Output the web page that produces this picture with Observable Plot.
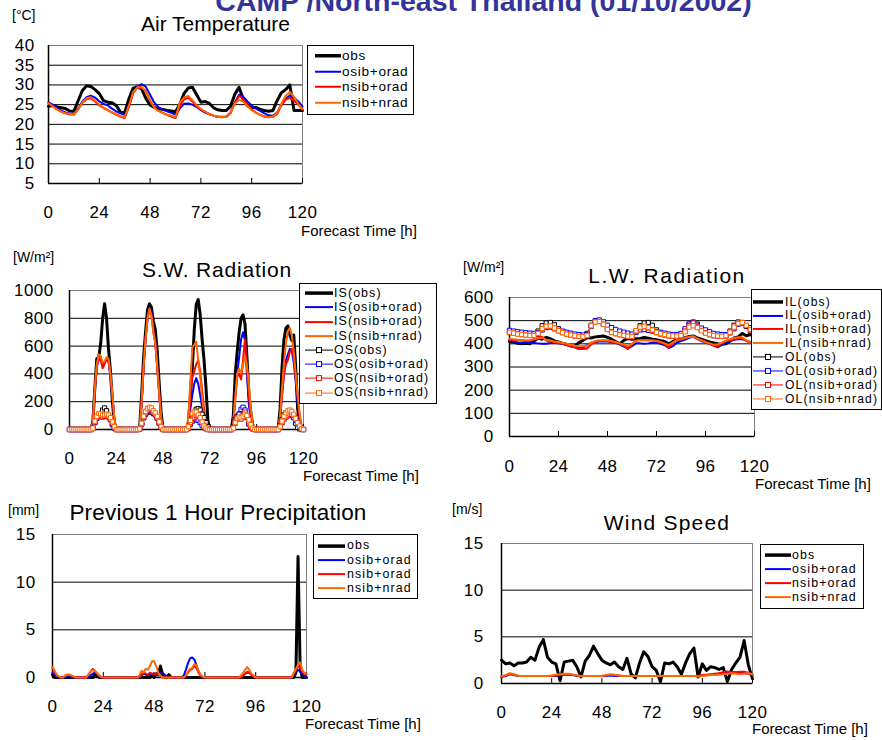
<!DOCTYPE html>
<html><head><meta charset="utf-8">
<script src="https://cdn.jsdelivr.net/npm/d3@7"></script>
<script src="https://cdn.jsdelivr.net/npm/@observablehq/plot@0.6"></script>
<style>
body{margin:0;background:#fff;}
#root{position:relative;width:882px;height:740px;overflow:hidden;font-family:"Liberation Sans",Arial,Helvetica,sans-serif;color:#000;background:#fff;}
.abs{position:absolute;white-space:nowrap;line-height:1;}
.pan{position:absolute;}
.legend{position:absolute;border:1px solid #000;background:#fff;box-sizing:border-box;overflow:hidden;}
.legend .row{display:flex;align-items:center;white-space:nowrap;line-height:1;}
svg text{letter-spacing:0.4px;}
</style></head><body><div id="root"></div>
<script>
// ---------------- DATA ----------------
const xTicks = [0, 24, 48, 72, 96, 120];
const seriesNames = ["obs", "osib+orad", "nsib+orad", "nsib+nrad"];
const colors = ["#000000", "#0000ff", "#ff0000", "#ff6600"];

// Air temperature, every 2 h (0..120)
const airObs = [24.6,24.8,24.4,24.2,24.0,23.4,23.3,26.0,28.6,29.8, 29.6,28.8,27.8,26.0,25.6,25.5,24.8,23.1,23.0,26.5, 29.2,29.5,29.0,26.6,24.9,24.3,23.9,23.8,23.5,23.4, 23.2,25.0,27.8,29.2,29.4,27.5,25.6,25.8,25.3,24.2, 23.7,23.5,23.5,24.6,27.6,29.4,26.4,24.7,24.3,24.3, 23.8,23.5,23.3,23.5,26.0,28.0,28.8,30.0,23.5,23.5, 23.5];
const airOsib = [25.6,25.0,24.2,23.5,23.0,22.7,22.7,24.0,25.8,26.9, 27.3,26.8,25.8,25.2,24.8,24.0,23.3,22.8,22.4,24.5, 28.0,29.6,30.2,29.5,27.5,25.5,24.3,23.8,23.3,22.9, 22.5,24.0,25.2,25.3,25.0,24.4,23.6,23.0,22.6,22.2, 21.9,21.9,22.0,23.0,25.5,27.5,27.0,25.8,24.8,24.0, 23.4,22.8,22.3,22.2,23.0,25.0,26.5,27.3,26.8,25.8, 24.5];
const airNsibO = [25.4,24.6,23.8,23.2,22.8,22.5,22.5,23.8,25.5,26.4, 26.6,25.8,24.8,24.2,23.6,23.0,22.5,22.0,21.6,24.5, 28.0,29.3,29.3,28.5,26.0,24.3,23.4,22.9,22.4,22.0, 21.6,24.5,26.3,26.8,25.8,24.6,23.8,23.2,22.6,22.2, 21.9,21.8,21.9,22.8,25.5,27.2,26.5,25.0,23.8,23.0, 22.4,22.0,21.8,21.9,22.6,24.8,26.2,26.8,26.0,25.0, 23.8];
const airNsibN = [25.3,24.6,23.8,23.2,22.8,22.6,22.6,23.8,25.6,26.6, 26.9,26.0,25.0,24.2,23.6,23.0,22.6,22.1,21.8,24.8, 28.2,29.4,29.5,28.3,26.0,24.2,23.4,22.9,22.5,22.2, 21.8,25.5,26.8,27.2,26.2,24.8,23.9,23.2,22.6,22.2, 21.9,21.8,21.9,23.0,25.2,26.2,25.8,24.6,23.6,22.9, 22.4,22.0,21.8,22.0,22.8,25.2,27.2,28.2,27.0,25.2, 23.8];

// Short-wave radiation, hourly (0..120)
const isObs = [0,0,0,0,0,0,0,0,0,0,0,0, 60,300,510,520,620,800,905,800,580,420,200,40, 0,0,0,0,0,0,0,0,0,0,0,0, 20,250,520,700,860,905,880,780,720,560,330,120, 0,0,0,0,0,0,0,0,0,0,0,0, 0,50,250,450,720,900,935,830,650,500,300,60, 0,0,0,0,0,0,0,0,0,0,0,0, 100,400,560,700,800,825,760,520,250,120,30,0, 0,0,0,0,0,0,0,0,0,0,0,0, 150,450,650,730,745,680,640,680,450,150,20,0, 0];
const isOsib = [0,0,0,0,0,0,0,0,0,0,0,0, 50,290,450,510,500,470,490,500,490,380,230,70, 0,0,0,0,0,0,0,0,0,0,0,0, 10,200,450,650,800,870,860,720,630,450,260,80, 0,0,0,0,0,0,0,0,0,0,0,0, 0,40,150,250,330,370,330,250,160,80,20,0, 0,0,0,0,0,0,0,0,0,0,0,0, 60,250,400,520,650,700,640,400,180,60,10,0, 0,0,0,0,0,0,0,0,0,0,0,0, 80,250,400,500,540,580,570,480,350,200,80,20, 0];
const isNsibO = [0,0,0,0,0,0,0,0,0,0,0,0, 50,290,460,520,500,440,470,510,500,390,240,80, 0,0,0,0,0,0,0,0,0,0,0,0, 10,200,450,650,800,860,830,710,620,450,260,80, 0,0,0,0,0,0,0,0,0,0,0,0, 0,40,250,380,420,470,500,420,280,150,50,0, 0,0,0,0,0,0,0,0,0,0,0,0, 50,220,380,400,360,500,650,450,250,80,10,0, 0,0,0,0,0,0,0,0,0,0,0,0, 80,250,400,470,500,560,580,520,380,230,100,20, 0];
const isNsibN = [0,0,0,0,0,0,0,0,0,0,0,0, 50,300,470,540,530,480,490,520,510,400,250,80, 0,0,0,0,0,0,0,0,0,0,0,0, 10,200,450,650,800,870,820,700,620,450,260,80, 0,0,0,0,0,0,0,0,0,0,0,0, 0,100,350,590,610,630,500,380,230,100,30,0, 0,0,0,0,0,0,0,0,0,0,0,0, 50,230,400,440,400,470,530,460,320,150,40,0, 0,0,0,0,0,0,0,0,0,0,0,0, 100,300,480,620,710,730,680,560,400,250,120,30, 0];
const osObs = [0,0,0,0,0,0,0,0,0,0,0,0, 10,50,85,95,110,140,155,135,100,75,35,10, 0,0,0,0,0,0,0,0,0,0,0,0, 5,40,85,110,125,130,125,115,110,85,50,20, 0,0,0,0,0,0,0,0,0,0,0,0, 0,10,40,80,120,145,150,140,110,85,50,20, 0,0,0,0,0,0,0,0,0,0,0,0, 20,70,95,110,120,125,115,90,40,25,5,0, 0,0,0,0,0,0,0,0,0,0,0,0, 25,70,105,120,125,110,105,90,45,15,5,0, 0];
const osOsib = [0,0,0,0,0,0,0,0,0,0,0,0, 10,50,80,95,95,90,95,95,90,70,40,10, 0,0,0,0,0,0,0,0,0,0,0,0, 5,40,85,115,135,145,140,120,105,80,45,15, 0,0,0,0,0,0,0,0,0,0,0,0, 0,10,40,60,70,75,65,50,30,15,5,0, 0,0,0,0,0,0,0,0,0,0,0,0, 15,50,80,110,145,160,140,85,40,15,5,0, 0,0,0,0,0,0,0,0,0,0,0,0, 15,50,75,90,100,105,100,85,65,40,15,5, 0];
const osNsibO = [0,0,0,0,0,0,0,0,0,0,0,0, 10,55,90,105,100,90,95,100,95,75,45,15, 0,0,0,0,0,0,0,0,0,0,0,0, 5,40,85,120,140,150,145,125,110,85,50,15, 0,0,0,0,0,0,0,0,0,0,0,0, 0,10,50,80,90,100,100,85,55,30,10,0, 0,0,0,0,0,0,0,0,0,0,0,0, 10,45,75,80,75,100,125,95,55,20,5,0, 0,0,0,0,0,0,0,0,0,0,0,0, 15,50,75,90,100,110,110,100,75,45,20,5, 0];
const osNsibN = [0,0,0,0,0,0,0,0,0,0,0,0, 10,60,95,115,115,105,105,110,105,85,55,20, 0,0,0,0,0,0,0,0,0,0,0,0, 5,45,95,130,150,160,155,135,120,95,55,20, 0,0,0,0,0,0,0,0,0,0,0,0, 0,20,65,115,125,125,105,85,55,25,10,0, 0,0,0,0,0,0,0,0,0,0,0,0, 10,50,80,90,85,95,110,100,70,35,10,0, 0,0,0,0,0,0,0,0,0,0,0,0, 20,60,95,120,135,140,130,110,80,50,25,5, 0];

// Long-wave radiation, every 2 h (0..120)
const ilObs = [410,408,402,400,402,400,412,425,420,428, 422,413,408,402,398,392,390,405,415,427, 425,430,432,434,428,420,410,400,415,423, 420,422,423,427,424,420,418,414,410,400, 410,418,422,426,432,434,426,420,414,408, 404,400,398,400,412,425,430,445,435,440, 430];
const ilOsib = [412,410,406,405,405,404,404,402,400,400, 404,405,402,400,395,390,386,384,382,395, 405,408,410,410,410,408,404,398,388,380, 390,402,402,400,402,405,405,400,394,382, 390,405,412,418,426,430,420,412,406,400, 392,385,395,405,412,418,420,420,415,408, 405];
const ilNsibO = [418,416,415,414,412,412,420,432,430,414, 410,406,404,400,395,388,384,378,378,380, 398,408,412,413,412,408,405,400,392,378, 398,415,417,417,416,415,413,408,398,384, 405,418,420,426,432,434,422,416,408,400, 392,390,402,412,415,420,424,424,412,406, 405];
const ilNsibN = [422,420,418,417,416,416,420,424,426,418, 414,410,408,404,400,396,392,390,390,392, 405,412,416,416,415,412,408,402,396,390, 400,412,416,416,415,414,412,408,402,395, 405,415,420,425,430,432,422,415,408,402, 396,398,405,414,420,425,428,428,414,408, 406];
const olObs = [452,448,445,442,440,438,440,455,478,490, 492,482,465,452,445,440,435,432,432,445, 480,496,497,485,465,450,445,440,436,434, 435,455,478,490,492,480,460,448,442,438, 435,434,436,460,485,494,485,462,448,440, 436,434,433,435,455,480,494,492,475,455, 440];
const olOsib = [458,455,452,450,448,446,445,448,460,470, 472,465,458,455,450,446,442,440,438,440, 475,500,503,495,480,470,462,455,450,446, 442,450,460,462,458,455,452,450,446,442, 440,440,445,465,485,492,480,468,460,452, 445,442,440,440,448,465,485,488,478,470, 465];
const olNsibO = [448,446,443,440,438,436,436,445,465,475, 476,468,456,448,442,438,434,432,430,435, 478,496,497,485,462,450,444,440,436,432, 430,455,470,474,468,458,448,442,438,434, 432,432,436,455,478,490,475,458,448,440, 435,433,432,434,448,470,488,490,478,460, 450];
const olNsibN = [450,446,442,440,438,436,436,445,466,476, 477,468,456,448,442,438,435,432,431,436, 478,494,496,484,462,450,444,440,436,433, 432,456,472,476,470,460,450,444,440,436, 434,433,436,452,472,478,470,456,446,440, 436,434,433,435,450,472,488,492,480,462, 452];

// Previous 1-hour precipitation, hourly (0..120)
const prObs = [0.3,0,0,0,0,0,0,0,0,0,0,0, 0,0,0,0,0,0,0,0,0.3,0.2,0,0, 0,0,0,0,0,0,0,0,0,0,0,0, 0,0,0,0,0,0,0,0,0,0,0,0.3, 0,0.4,0.3,1.2,0.3,0,0,0.3,0,0,0,0, 0,0,0,0,0,0,0,0,0,0,0,0, 0,0,0,0,0,0,0,0,0,0,0,0, 0,0,0,0,0,0,0,0,0,0,0,0, 0,0,0,0,0,0,0,0,0,0,0,0, 0,0,0,0,0,0,0,0.5,12.7,1.0,0,0, 0];
const prOsib = [0.5,0.3,0.1,0,0,0,0,0.2,0.2,0,0,0, 0,0,0,0,0,0,0.2,0.4,0.5,0.4,0.2,0, 0,0,0,0,0,0,0,0,0,0,0,0, 0,0,0,0,0,0,0.2,0.4,0.3,0.2,0.3,0.4, 0.4,0.3,0.2,0.4,0.5,0.3,0.1,0,0,0,0,0, 0,0,0.2,0.8,1.5,2.0,2.1,1.9,1.3,0.6,0.2,0, 0,0,0,0,0,0,0,0,0,0,0,0, 0,0,0,0,0,0,0.2,0.4,0.5,0.5,0.3,0.1, 0,0,0,0,0,0,0,0,0,0,0,0, 0,0,0,0,0,0,0.3,0.6,0.8,0.6,0.3,0.2, 0];
const prNsibO = [1.0,0.6,0.2,0.1,0,0,0.2,0.3,0.3,0.2,0.1,0, 0,0,0,0,0,0.3,0.6,0.9,0.7,0.4,0.2,0, 0,0,0,0,0,0,0,0,0,0,0,0, 0,0,0,0,0,0,0.3,0.6,0.4,0.3,0.5,0.4, 0.3,0.4,0.3,0.2,0,0,0,0,0,0,0,0, 0,0,0,0.2,0.5,0.8,0.9,1.2,1.0,0.5,0.2,0, 0,0,0,0,0,0,0,0,0,0,0,0, 0,0,0,0,0,0,0.2,0.4,0.6,0.5,0.3,0.1, 0,0,0,0,0,0,0,0,0,0,0,0, 0,0,0,0,0,0,0.4,0.8,1.2,1.0,0.6,0.4, 0.3];
const prNsibN = [1.1,0.7,0.3,0.1,0,0,0.2,0.3,0.3,0.2,0.1,0, 0,0,0,0,0,0.3,0.6,0.8,0.7,0.5,0.2,0.1, 0,0,0,0,0,0,0,0,0,0,0,0, 0,0,0,0,0,0.2,0.7,0.5,0.9,0.8,1.2,1.7, 1.7,1.2,0.5,0.2,0,0,0,0,0,0,0,0, 0,0,0,0.2,0.6,0.9,1.0,1.4,1.3,0.7,0.3,0.1, 0,0,0,0,0,0,0,0,0,0,0,0, 0,0,0,0,0,0.2,0.5,0.8,1.1,0.8,0.4,0.2, 0,0,0,0,0,0,0,0,0,0,0,0, 0,0,0,0,0,0,0.5,0.9,1.3,1.6,0.8,0.5, 0.4];

// Wind speed, every 2 h (0..120)
const wsObs = [2.5,2.1,2.2,1.9,2.2,2.2,2.3,2.8,2.5,3.9, 4.7,2.8,2.3,2.1,0.3,2.3,2.4,2.5,1.8,0.7, 2.4,3.0,4.0,3.2,2.5,2.2,2.0,2.3,1.8,1.5, 2.7,1.0,0.6,2.2,3.4,2.9,1.8,1.4,0.2,2.2, 2.1,2.3,1.8,1.0,2.2,3.2,3.8,0.7,2.1,1.4, 1.8,1.7,1.5,1.7,0.2,1.5,2.2,2.8,4.6,2.0, 0.5];
const wsOsib = [0.7,0.8,1.0,0.9,0.8,0.8,0.8,0.8,0.8,0.8, 0.8,0.8,0.8,0.8,0.9,0.95,0.95,0.9,0.8,0.8, 0.8,0.8,0.8,0.8,0.8,0.8,0.85,0.8,0.8,0.8, 0.8,0.8,0.8,0.8,0.8,0.8,0.8,0.8,0.8,0.8, 0.8,0.8,0.8,0.8,0.8,0.8,0.8,0.8,0.85,0.9, 0.95,1.0,1.05,1.1,1.2,1.2,1.2,1.15,1.1,1.05, 0.9];
const wsNsibO = [0.75,0.85,1.05,0.95,0.8,0.8,0.8,0.8,0.8,0.8, 0.8,0.8,0.8,0.85,0.95,1.0,1.0,0.95,0.85,0.8, 0.8,0.8,0.8,0.8,0.8,0.85,0.95,0.9,0.85,0.8, 0.8,0.8,0.8,0.8,0.8,0.8,0.8,0.8,0.8,0.8, 0.8,0.8,0.8,0.8,0.8,0.8,0.8,0.8,0.9,0.95, 1.0,1.05,1.1,1.2,1.3,1.2,1.2,1.25,1.25,1.15, 0.95];
const wsNsibN = [0.75,0.9,1.1,1.0,0.8,0.8,0.8,0.8,0.8,0.8, 0.8,0.8,0.85,0.95,1.0,1.05,1.05,0.95,0.85,0.8, 0.8,0.8,0.8,0.8,0.8,0.9,1.0,0.95,0.85,0.8, 0.8,0.8,0.8,0.8,0.8,0.8,0.8,0.8,0.8,0.8, 0.8,0.8,0.8,0.8,0.8,0.8,0.8,0.75,0.8,0.85, 0.9,0.9,0.95,1.0,1.05,1.1,1.05,1.0,1.05,1.1, 1.0];

// ---------------- RENDER ----------------
const FONT = '"Liberation Sans", Arial, Helvetica, sans-serif';
const root = document.getElementById("root");
const hours2 = d3.range(0, 121, 2);
const hours1 = d3.range(0, 121, 1);

function lineMark(vals, hours, color, w) {
  return Plot.line(vals, {x: (d, i) => hours[i], y: d => d, stroke: color, strokeWidth: w, strokeLinejoin: "round"});
}
function dotMark(vals, hours, color) {
  return Plot.dot(vals, {x: (d, i) => hours[i], y: d => d, symbol: "square", r: 2.4, stroke: color, fill: "#fff", strokeWidth: 1});
}

function panel(o) {
  const mL = o.fx0 - o.left, mT = o.fy0 - o.top;
  const mR = o.left + o.width - o.fx1, mB = o.top + o.height - o.fy1;
  const innerH = o.fy1 - o.fy0;
  const svg = Plot.plot({
    width: o.width, height: o.height,
    marginLeft: mL, marginTop: mT, marginRight: mR, marginBottom: mB,
    style: {fontFamily: FONT, fontSize: "17px", background: "transparent", overflow: "visible", color: "#000"},
    x: {domain: [0, 120], ticks: xTicks, tickSize: 0, tickPadding: o.xPad, tickFormat: d => String(d), label: null},
    y: {domain: o.yDomain, ticks: o.yTicks, tickSize: 0, tickPadding: o.yPad, tickFormat: d => String(d), label: null},
    marks: [
      Plot.ruleY(o.grid, {stroke: "#000", strokeWidth: 1}),
      Plot.frame({stroke: "#808080", strokeWidth: 1}),
      Plot.ruleX([0], {stroke: "#000", strokeWidth: 1.5}),
      Plot.ruleY([o.yDomain[0]], {stroke: "#000", strokeWidth: 1.5}),
      Plot.ruleX(xTicks, {stroke: "#000", strokeWidth: 1, insetTop: innerH - 5}),
      ...o.marks
    ]
  });
  const wrap = document.createElement("div");
  wrap.className = "pan";
  wrap.style.left = o.left + "px";
  wrap.style.top = o.top + "px";
  wrap.style.width = o.width + "px";
  wrap.style.height = o.height + "px";
  wrap.appendChild(svg);
  root.appendChild(wrap);
}

function addText(str, o) {
  const d = document.createElement("div");
  d.className = "abs";
  d.textContent = str;
  d.style.fontSize = o.fs + "px";
  d.style.top = o.top + "px";
  if (o.center != null) {
    d.style.left = (o.center - 300) + "px";
    d.style.width = "600px";
    d.style.textAlign = "center";
  } else d.style.left = o.left + "px";
  if (o.bold) d.style.fontWeight = "bold";
  if (o.color) d.style.color = o.color;
  if (o.ls) d.style.letterSpacing = o.ls + "px";
  root.appendChild(d);
}

function addLegend(o, items) {
  const box = document.createElement("div");
  box.className = "legend";
  Object.assign(box.style, {
    left: o.left + "px", top: o.top + "px", width: o.width + "px", height: o.height + "px",
    paddingTop: o.padTop + "px", paddingLeft: o.padL + "px",
    fontSize: o.fs + "px", letterSpacing: o.ls + "px"
  });
  for (const it of items) {
    const row = document.createElement("div");
    row.className = "row";
    row.style.height = o.rowH + "px";
    const mid = o.rowH / 2;
    let sw = `<svg width="${o.swW}" height="${o.rowH}" style="flex:none;margin-right:${o.gap}px;display:block"><line x1="0" x2="${o.swW}" y1="${mid}" y2="${mid}" stroke="${it.color}" stroke-width="${it.w}"/>`;
    if (it.marker) sw += `<rect x="${o.swW / 2 - 2.5}" y="${mid - 2.5}" width="5" height="5" fill="#fff" stroke="${it.color}" stroke-width="1"/>`;
    sw += `</svg>`;
    row.innerHTML = sw;
    const sp = document.createElement("span");
    sp.textContent = it.label;
    row.appendChild(sp);
    box.appendChild(row);
  }
  root.appendChild(box);
}

const basicItems = seriesNames.map((s, i) => ({label: s, color: colors[i], w: i === 0 ? 3.5 : 2}));

// Main title (cut at the top edge, as in the original)
addText("CAMP /North-east Thailand (01/10/2002)", {center: 483.5, top: -13, fs: 28.5, bold: true, color: "#333399"});

// ---- Air Temperature ----
panel({
  left: 0, top: 30, width: 310, height: 195, fx0: 48, fx1: 302, fy0: 45, fy1: 183,
  yDomain: [5, 40], yTicks: [5, 10, 15, 20, 25, 30, 35, 40], grid: [10, 15, 20, 25, 30, 35],
  xPad: 22, yPad: 14,
  marks: [
    lineMark(airObs, hours2, colors[0], 3),
    lineMark(airOsib, hours2, colors[1], 2),
    lineMark(airNsibO, hours2, colors[2], 2),
    lineMark(airNsibN, hours2, colors[3], 2)
  ]
});
addText("Air Temperature", {center: 215.5, top: 13.3, fs: 21});
addText("[°C]", {left: 12, top: 8, fs: 14});
addText("Forecast Time [h]", {left: 301, top: 223, fs: 15});
addLegend({left: 307, top: 45, width: 107, height: 70, padTop: 2.2, padL: 7, rowH: 15.5, swW: 26, gap: 1, fs: 13.6, ls: 0.7}, basicItems);

// ---- S.W. Radiation ----
panel({
  left: 0, top: 280, width: 310, height: 195, fx0: 69, fx1: 303, fy0: 290, fy1: 429,
  yDomain: [0, 1000], yTicks: [0, 200, 400, 600, 800, 1000], grid: [200, 400, 600, 800],
  xPad: 22, yPad: 16,
  marks: [
    lineMark(isObs, hours1, colors[0], 3),
    lineMark(isOsib, hours1, colors[1], 2),
    lineMark(isNsibO, hours1, colors[2], 2),
    lineMark(isNsibN, hours1, colors[3], 2),
    lineMark(osObs, hours1, colors[0], 1), dotMark(osObs, hours1, colors[0]),
    lineMark(osOsib, hours1, colors[1], 1), dotMark(osOsib, hours1, colors[1]),
    lineMark(osNsibO, hours1, colors[2], 1), dotMark(osNsibO, hours1, colors[2]),
    lineMark(osNsibN, hours1, colors[3], 1), dotMark(osNsibN, hours1, colors[3])
  ]
});
addText("S.W. Radiation", {center: 217, top: 259, fs: 21, ls: 0.8});
addText("[W/m²]", {left: 13, top: 250, fs: 14});
addText("Forecast Time [h]", {left: 303, top: 468, fs: 15});
addLegend({left: 299, top: 283, width: 138, height: 121, padTop: 2.2, padL: 5, rowH: 14.2, swW: 28, gap: 1, fs: 12.4, ls: 1.1},
  [...seriesNames.map((s, i) => ({label: `IS(${s})`, color: colors[i], w: i === 0 ? 3.5 : 2})),
   ...seriesNames.map((s, i) => ({label: `OS(${s})`, color: colors[i], w: 1, marker: true}))]);

// ---- L.W. Radiation ----
panel({
  left: 455, top: 287, width: 305, height: 195, fx0: 509, fx1: 754, fy0: 297, fy1: 436,
  yDomain: [0, 600], yTicks: [0, 100, 200, 300, 400, 500, 600], grid: [100, 200, 300, 400, 500],
  xPad: 23, yPad: 16,
  marks: [
    lineMark(ilObs, hours2, colors[0], 3),
    lineMark(ilOsib, hours2, colors[1], 2),
    lineMark(ilNsibO, hours2, colors[2], 2),
    lineMark(ilNsibN, hours2, colors[3], 2),
    lineMark(olObs, hours2, colors[0], 1), dotMark(olObs, hours2, colors[0]),
    lineMark(olOsib, hours2, colors[1], 1), dotMark(olOsib, hours2, colors[1]),
    lineMark(olNsibO, hours2, colors[2], 1), dotMark(olNsibO, hours2, colors[2]),
    lineMark(olNsibN, hours2, colors[3], 1), dotMark(olNsibN, hours2, colors[3])
  ]
});
addText("L.W. Radiation", {center: 667, top: 265, fs: 21, ls: 1.5});
addText("[W/m²]", {left: 463, top: 260, fs: 14});
addText("Forecast Time [h]", {left: 755, top: 475.7, fs: 15});
addLegend({left: 751, top: 289, width: 131, height: 121, padTop: 4.7, padL: 1, rowH: 13.9, swW: 30, gap: 2, fs: 12.1, ls: 1.2},
  [...seriesNames.map((s, i) => ({label: `IL(${s})`, color: colors[i], w: i === 0 ? 3.5 : 2})),
   ...seriesNames.map((s, i) => ({label: `OL(${s})`, color: colors[i], w: 1, marker: true}))]);

// ---- Precipitation ----
panel({
  left: 0, top: 524, width: 312, height: 200, fx0: 52, fx1: 306, fy0: 534, fy1: 677,
  yDomain: [0, 15], yTicks: [0, 5, 10, 15], grid: [5, 10],
  xPad: 22, yPad: 17,
  marks: [
    lineMark(prObs, hours1, colors[0], 3),
    lineMark(prOsib, hours1, colors[1], 2),
    lineMark(prNsibO, hours1, colors[2], 2),
    lineMark(prNsibN, hours1, colors[3], 2)
  ]
});
addText("Previous 1 Hour Precipitation", {center: 218, top: 502, fs: 22.5, ls: 0.2});
addText("[mm]", {left: 8, top: 503, fs: 14});
addText("Forecast Time [h]", {left: 305, top: 715.7, fs: 15});
addLegend({left: 313, top: 534, width: 105, height: 65, padTop: 3.6, padL: 4, rowH: 14.2, swW: 27, gap: 2, fs: 12.4, ls: 1.1}, basicItems);

// ---- Wind Speed ----
panel({
  left: 455, top: 533, width: 302, height: 200, fx0: 501, fx1: 752, fy0: 543, fy1: 683,
  yDomain: [0, 15], yTicks: [0, 5, 10, 15], grid: [5, 10],
  xPad: 22, yPad: 18,
  marks: [
    lineMark(wsObs, hours2, colors[0], 3),
    lineMark(wsOsib, hours2, colors[1], 2),
    lineMark(wsNsibO, hours2, colors[2], 2),
    lineMark(wsNsibN, hours2, colors[3], 2)
  ]
});
addText("Wind Speed", {center: 667, top: 511.6, fs: 21, ls: 1.2});
addText("[m/s]", {left: 452, top: 502, fs: 14});
addText("Forecast Time [h]", {left: 752, top: 721.3, fs: 15});
addLegend({left: 760, top: 544, width: 104, height: 65, padTop: 2.9, padL: 4, rowH: 14.2, swW: 26, gap: 1, fs: 12.4, ls: 1.1}, basicItems);
</script></body></html>
